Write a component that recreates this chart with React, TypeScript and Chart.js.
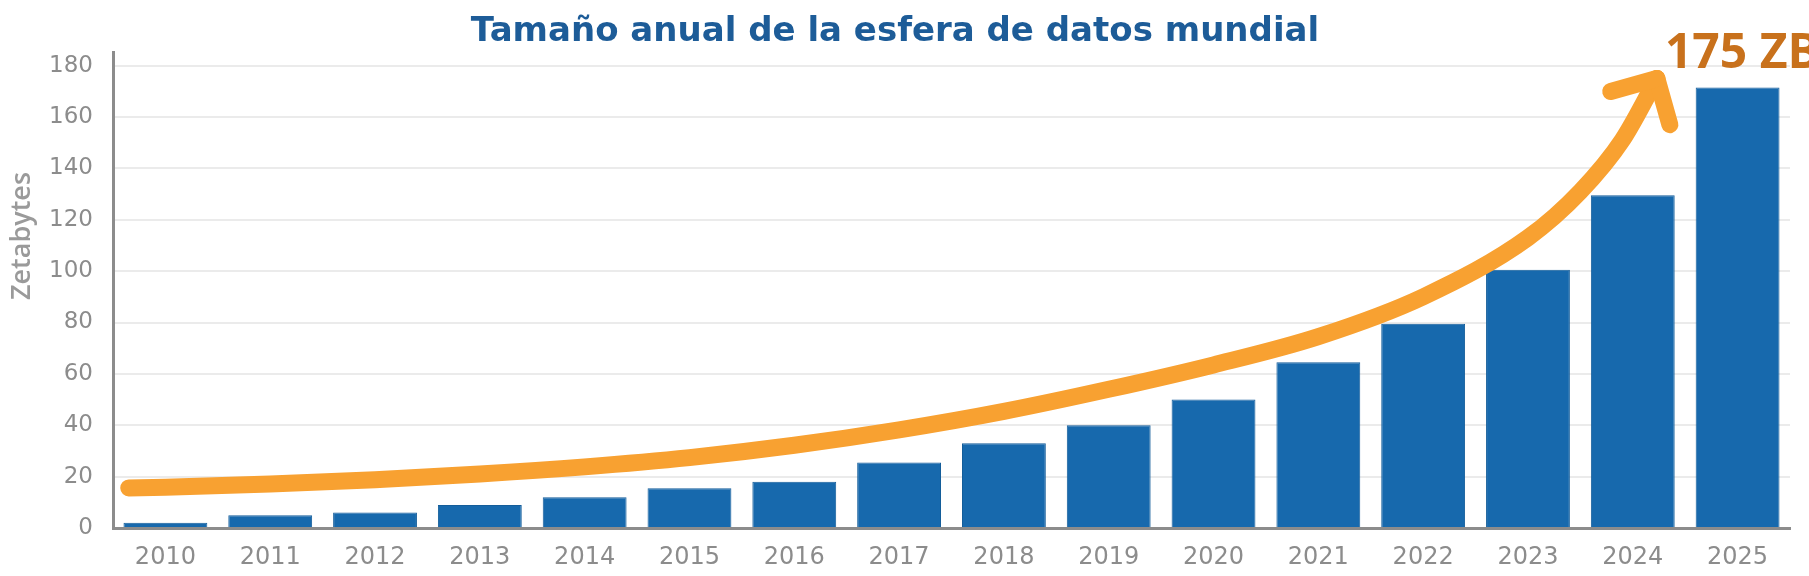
import { useEffect, useRef } from "react"
import { Chart, registerables } from "chart.js"

Chart.register(...registerables)

const years = ["2010", "2011", "2012", "2013", "2014", "2015", "2016", "2017", "2018", "2019", "2020", "2021", "2022", "2023", "2024", "2025"]
const zettabytes = [2, 5, 6, 9, 12, 15.5, 18, 25.5, 33, 40, 50, 64.5, 79.5, 100.5, 129.5, 171.5]

// growth arrow, x in year-index units
const trendX = [-0.35, 0, 1, 2, 3, 4, 5, 6, 7, 8, 9, 10, 11, 12, 13, 13.5, 13.9, 14.23]
const trendY = [15.6, 15.9, 17.1, 18.8, 21.0, 23.8, 27.4, 32.2, 38.2, 45.4, 54, 63.5, 74.5, 90, 113, 131, 151, 175]

const peakLabel = "175 ZB"
const chartTitle = "Tamaño anual de la esfera de datos mundial"
const yTitle = "Zetabytes"

const WIDE = "'DejaVu Sans', sans-serif"
const SANS = "'Open Sans', 'Noto Sans', sans-serif"
const ARROW = "#f8a131"

const arrowPlugin = {
  id: "arrowHead",
  afterDatasetsDraw(chart: any) {
    const pts = chart.getDatasetMeta(0).data
    if (!pts || pts.length < 2) return
    const tip = pts[pts.length - 1]
    const prev = pts[pts.length - 2]
    const ang = Math.atan2(prev.y - tip.y, prev.x - tip.x)
    const ctx = chart.ctx
    ctx.save()
    ctx.strokeStyle = ARROW
    ctx.lineWidth = 17
    ctx.lineCap = "round"
    const len = 48
    const spread = (45 * Math.PI) / 180
    for (const s of [-1, 1]) {
      ctx.beginPath()
      ctx.moveTo(tip.x, tip.y)
      ctx.lineTo(tip.x + len * Math.cos(ang + s * spread), tip.y + len * Math.sin(ang + s * spread))
      ctx.stroke()
    }
    ctx.fillStyle = "#c8711c"
    ctx.font = `bold 48px ${SANS}`
    ctx.textAlign = "left"
    ctx.textBaseline = "alphabetic"
    ctx.fillText(peakLabel, tip.x + 8, tip.y - 10)
    ctx.restore()
  },
  afterDraw(chart: any) {
    const ctx = chart.ctx
    ctx.save()
    ctx.translate(22, 236)
    ctx.rotate(-Math.PI / 2)
    ctx.fillStyle = "#9a9a9a"
    ctx.font = `600 27px ${SANS}`
    ctx.textAlign = "center"
    ctx.textBaseline = "middle"
    ctx.fillText(yTitle, 0, 0)
    ctx.restore()
  },
}

export default function App() {
  const canvasRef = useRef<HTMLCanvasElement>(null)

  useEffect(() => {
    if (!canvasRef.current) return
    const chart = new Chart(canvasRef.current, {
      type: "bar",
      data: {
        datasets: [
          {
            type: "line",
            data: trendX.map((x, i) => ({ x, y: trendY[i] })),
            borderColor: ARROW,
            borderWidth: 17,
            borderCapStyle: "round",
            borderJoinStyle: "round",
            cubicInterpolationMode: "monotone",
            pointRadius: 0,
            fill: false,
            order: 0,
          } as any,
          {
            type: "bar",
            data: zettabytes.map((y, i) => ({ x: i, y })),
            backgroundColor: "#1769ad",
            borderColor: "#145d9a",
            borderWidth: 1,
            grouped: false,
            categoryPercentage: 1,
            barPercentage: 0.8,
            order: 1,
          },
        ],
      },
      options: {
        responsive: false,
        animation: false,
        layout: { padding: { left: 0, right: 19, top: 0, bottom: 0 } },
        plugins: {
          legend: { display: false },
          tooltip: { enabled: false },
          title: {
            display: true,
            text: chartTitle,
            color: "#1d5c98",
            font: { family: WIDE, size: 34, weight: "bold" },
            padding: { top: 12, bottom: 0 },
          },
        },
        scales: {
          x: {
            type: "linear",
            min: -0.5,
            max: 15.5,
            offset: false,
            afterFit: (s: any) => {
              s.height = 48
            },
            afterBuildTicks: (s: any) => {
              s.ticks = years.map((_, i) => ({ value: i }))
            },
            grid: { display: false, drawTicks: false, offset: false },
            border: { display: true, color: "#8c8c8c", width: 3 },
            ticks: {
              autoSkip: false,
              maxRotation: 0,
              callback: (v: any) => years[v] ?? "",
              color: "#8c8c8c",
              padding: 15,
              font: { family: WIDE, size: 24 },
            },
          },
          y: {
            min: 0,
            max: 185,
            afterFit: (s: any) => {
              s.width = 113
            },
            grid: { color: "#ebebeb", lineWidth: 2, drawTicks: false },
            border: { display: true, color: "#8c8c8c", width: 3 },
            ticks: {
              stepSize: 20,
              includeBounds: false,
              padding: 20,
              color: "#8c8c8c",
              font: { family: WIDE, size: 23 },
            },
          },
        },
      },
      plugins: [arrowPlugin],
    })
    return () => chart.destroy()
  }, [])

  return (
    <div style={{ position: "fixed", left: 0, top: 0, width: 1809, height: 576, background: "#fff" }}>
      <canvas ref={canvasRef} width={1809} height={576} style={{ display: "block" }} />
    </div>
  )
}
